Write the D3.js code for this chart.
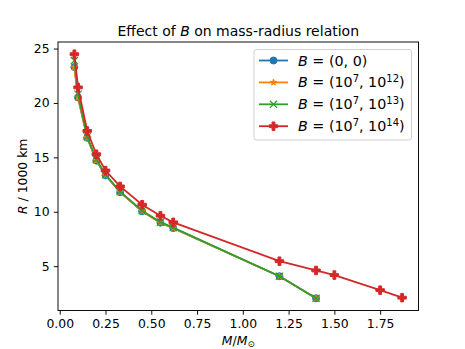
<!DOCTYPE html>
<html>
<head>
<meta charset="utf-8">
<script src="https://cdn.jsdelivr.net/npm/d3@7"></script>
<style>
    body { margin: 0; background: #fff; }
    text { font-family: 'DejaVu Sans', sans-serif; fill: #000; }
</style>
</head>
<body>
<script>
// mass in solar masses, radius in 1000 km
const massLow = [0.08, 0.10, 0.15, 0.20, 0.25, 0.33, 0.45, 0.55, 0.62, 1.20, 1.40];
const massHigh = [0.08, 0.10, 0.15, 0.20, 0.25, 0.33, 0.45, 0.55, 0.62, 1.20, 1.40, 1.50, 1.75, 1.87];
const radiusB0 = [23.3, 20.5, 16.8, 14.7, 13.35, 11.8, 10.05, 9.0, 8.5, 4.08, 2.05];
const radiusB12 = [23.3, 20.5, 16.8, 14.7, 13.35, 11.8, 10.05, 9.0, 8.5, 4.08, 2.05];
const radiusB13 = [23.9, 20.8, 16.9, 14.8, 13.4, 11.85, 10.1, 9.05, 8.55, 4.08, 2.05];
const radiusB14 = [24.48, 21.43, 17.43, 15.29, 13.79, 12.33, 10.65, 9.64, 9.03, 5.46, 4.61, 4.18, 2.80, 2.11];
const seriesExp = [null, ['7', '12'], ['7', '13'], ['7', '14']];
const xTicks = [0.00, 0.25, 0.50, 0.75, 1.00, 1.25, 1.50, 1.75];
const yTicks = [5, 10, 15, 20, 25];

const series = [
    {mass: massLow, radius: radiusB0, color: '#1f77b4', marker: 'o', exp: seriesExp[0]},
    {mass: massLow, radius: radiusB12, color: '#ff7f0e', marker: '*', exp: seriesExp[1]},
    {mass: massLow, radius: radiusB13, color: '#2ca02c', marker: 'x', exp: seriesExp[2]},
    {mass: massHigh, radius: radiusB14, color: '#d62728', marker: 'P', exp: seriesExp[3]}
];

const width = 465;
const height = 349;
const marginLeft = 58;
const marginRight = 46.5;
const marginTop = 42;
const marginBottom = 38.5;
const fs = 12.4;       // tick / axis label font size
const legendFs = 14.3; // legend font size

const svg = d3.select('body')
    .append('svg')
    .attr('width', width)
    .attr('height', height);

// domains with matplotlib-style 5% padding
const allMass = massHigh.concat(massLow);
const allRadius = radiusB0.concat(radiusB12, radiusB13, radiusB14);
const [mMin, mMax] = d3.extent(allMass);
const [rMin, rMax] = d3.extent(allRadius);
const mPad = (mMax - mMin) * 0.05;
const rPad = (rMax - rMin) * 0.05;

const x = d3.scaleLinear()
    .domain([mMin - mPad, mMax + mPad])
    .range([marginLeft, width - marginRight]);
const y = d3.scaleLinear()
    .domain([rMin - rPad, rMax + rPad])
    .range([height - marginBottom, marginTop]);

// x-axis
const xAxis = svg.append('g')
    .attr('transform', `translate(0,${height - marginBottom})`)
    .call(d3.axisBottom(x).tickValues(xTicks).tickFormat(d3.format('.2f')).tickSize(4.2).tickPadding(4.2));
// y-axis
const yAxis = svg.append('g')
    .attr('transform', `translate(${marginLeft},0)`)
    .call(d3.axisLeft(y).tickValues(yTicks).tickSize(4.2).tickPadding(4.2));

[xAxis, yAxis].forEach(g => {
    g.select('.domain').remove();
    g.selectAll('line').attr('stroke', '#000').attr('stroke-width', 0.95);
    g.selectAll('text').style('font-family', 'DejaVu Sans').style('font-size', fs + 'px').attr('fill', '#000');
});

const lineGen = d3.line()
    .x(d => x(d[0]))
    .y(d => y(d[1]));

function drawMarker(g, type, color, px, py)
{
    if (type === 'o') {
        g.append('circle').attr('cx', px).attr('cy', py).attr('r', 3.5)
            .attr('fill', color).attr('stroke', color).attr('stroke-width', 1);
    } else if (type === '*') {
        g.append('path').attr('transform', `translate(${px},${py})`)
            .attr('d', d3.symbol(d3.symbolStar, 13)())
            .attr('fill', color).attr('stroke', color).attr('stroke-width', 1);
    } else if (type === 'x') {
        g.append('path').attr('transform', `translate(${px},${py})`)
            .attr('d', 'M-3.6,-3.6L3.6,3.6M-3.6,3.6L3.6,-3.6')
            .attr('fill', 'none').attr('stroke', color).attr('stroke-width', 1.3);
    } else {
        g.append('path').attr('transform', `translate(${px},${py})`)
            .attr('d', d3.symbol(d3.symbolCross, 40)())
            .attr('fill', color).attr('stroke', color).attr('stroke-width', 1);
    }
}

const plot = svg.append('g');
series.forEach(s => {
    const pts = s.mass.map((m, i) => [m, s.radius[i]]);
    plot.append('path')
        .datum(pts)
        .attr('d', lineGen)
        .attr('fill', 'none')
        .attr('stroke', s.color)
        .attr('stroke-width', 1.8);
    pts.forEach(p => drawMarker(plot, s.marker, s.color, x(p[0]), y(p[1])));
});

// frame
svg.append('rect')
    .attr('x', marginLeft)
    .attr('y', marginTop)
    .attr('width', width - marginLeft - marginRight)
    .attr('height', height - marginTop - marginBottom)
    .attr('fill', 'none')
    .attr('stroke', '#000')
    .attr('stroke-width', 0.95);

// title
const title = svg.append('text')
    .attr('x', (marginLeft + width - marginRight) / 2)
    .attr('y', 36)
    .attr('text-anchor', 'middle')
    .style('font-size', '14px');
title.append('tspan').text('Effect of ');
title.append('tspan').style('font-style', 'italic').text('B');
title.append('tspan').text(' on mass-radius relation');

// x label
const xLabel = svg.append('text')
    .attr('x', (marginLeft + width - marginRight) / 2)
    .attr('y', 344.5)
    .attr('text-anchor', 'middle')
    .style('font-size', fs + 'px');
xLabel.append('tspan').style('font-style', 'italic').text('M');
xLabel.append('tspan').text('/');
xLabel.append('tspan').style('font-style', 'italic').text('M');
xLabel.append('tspan').attr('dy', 2.5).style('font-size', '8.7px').text('⊙');

// y label
const yLabel = svg.append('text')
    .attr('transform', `translate(26.5,${(marginTop + height - marginBottom) / 2}) rotate(-90)`)
    .attr('text-anchor', 'middle')
    .style('font-size', fs + 'px');
yLabel.append('tspan').style('font-style', 'italic').text('R');
yLabel.append('tspan').text(' / 1000 km');

// legend
const legend = svg.append('g');
legend.append('rect')
    .attr('x', 254)
    .attr('y', 49.5)
    .attr('width', 157.5)
    .attr('height', 90.5)
    .attr('rx', 2.5)
    .attr('fill', '#fff')
    .attr('fill-opacity', 0.8)
    .attr('stroke', '#ccc')
    .attr('stroke-width', 0.95);

series.forEach((s, i) => {
    const ly = 60.5 + i * 21.9;
    legend.append('line')
        .attr('x1', 259).attr('x2', 288)
        .attr('y1', ly).attr('y2', ly)
        .attr('stroke', s.color).attr('stroke-width', 1.8);
    drawMarker(legend, s.marker, s.color, 273.5, ly);
    const t = legend.append('text')
        .attr('x', 298)
        .attr('y', ly + 5)
        .style('font-size', legendFs + 'px');
    t.append('tspan').style('font-style', 'italic').text('B');
    if (s.exp === null) {
        t.append('tspan').text(' = (0, 0)');
    } else {
        t.append('tspan').text(' = (10');
        t.append('tspan').attr('dy', -5.5).style('font-size', '10px').text(s.exp[0]);
        t.append('tspan').attr('dy', 5.5).text(', 10');
        t.append('tspan').attr('dy', -5.5).style('font-size', '10px').text(s.exp[1]);
        t.append('tspan').attr('dy', 5.5).text(')');
    }
});
</script>
</body>
</html>
